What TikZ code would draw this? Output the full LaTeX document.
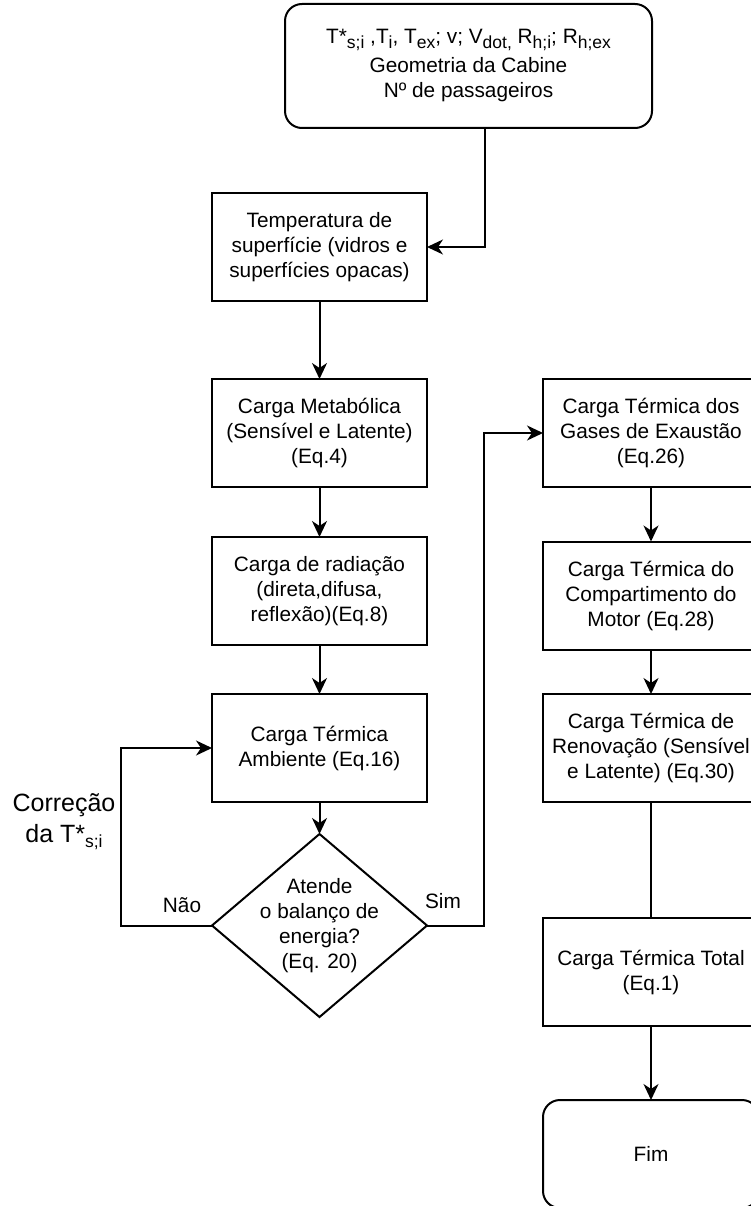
\documentclass[tikz,border=0pt]{standalone}
\usepackage{fontspec}
\setmainfont{Liberation Sans}
\usetikzlibrary{arrows.meta,shapes.geometric}
% subscript in the style of the flowchart labels
\newcommand{\sbs}[1]{\raisebox{-5pt}{\fontsize{17.5}{17.5}\selectfont #1}}
\begin{document}
\begin{tikzpicture}[x=1pt,y=1pt,
  every node/.style={font={\fontsize{20.8}{25}\selectfont}},
  proc/.style={draw, line width=2pt, rectangle, minimum width=215pt,
    minimum height=108pt, align=center, inner sep=0pt, outer sep=0pt},
  procR/.style={proc, minimum width=216pt},
  term/.style={proc, rounded corners=17pt},
  decision/.style={draw, line width=2pt, diamond, minimum width=215pt,
    minimum height=183pt, inner sep=0pt, outer sep=0pt},
  plain/.style={align=center, inner sep=0pt},
  link/.style={line width=2pt},
  arr/.style={link, -{Stealth[length=16pt,width=15pt,inset=5pt]}}
]
\useasboundingbox (0,0) rectangle (751,-1206);
\clip (0,0) rectangle (751,-1206);

% input block
\node[term, minimum width=367pt, minimum height=124pt] (inp) at (468.5,-66) {};
\node[plain] (inptxt) at (468.5,-66)
  {T*\sbs{s;i} ,T\sbs{i}, T\sbs{ex}; v; V\sbs{dot,} R\sbs{h;i}; R\sbs{h;ex}\\[4pt]
   Geometria da Cabine\\
   Nº de passageiros};

% left column
\node[proc] (temp) at (319.5,-247) {Temperatura de\\superfície (vidros e\\superfícies opacas)};
\node[proc] (meta) at (319.5,-433) {Carga Metabólica\\(Sensível e Latente)\\(Eq.4)};
\node[proc] (rad)  at (319.5,-591) {Carga de radiação\\(direta,difusa,\\reflexão)(Eq.8)};
\node[proc] (amb)  at (319.5,-748) {Carga Térmica\\Ambiente (Eq.16)};
\node[decision] (dec) at (319.5,-925.5) {};
\node[plain] (dectxt) at (dec.center) {Atende\\o balanço de\\energia?\\(Eq. 20)};

% right column
\node[procR] (gases) at (651,-433)  {Carga Térmica dos\\Gases de Exaustão\\(Eq.26)};
\node[procR] (comp)  at (651,-595.5){Carga Térmica do\\Compartimento do\\Motor (Eq.28)};
\node[procR] (renov) at (651,-748)  {Carga Térmica de\\Renovação (Sensível\\e Latente) (Eq.30)};
\node[procR] (total) at (651,-972)  {Carga Térmica Total\\(Eq.1)};
\node[procR, rounded corners=17pt] (fim) at (651,-1154) {Fim};

% labels
\node[plain, font={\fontsize{25}{31}\selectfont}] (corr) at (64,-822) {Correção\\da T*\sbs{s;i}};
\node[plain] (nao) at (182,-905) {Não};
\node[plain] (sim) at (443,-901) {Sim};

% connectors
\draw[arr] ([xshift=16.5pt]inp.south) |- (temp.east);
\draw[arr] (temp.south) -- (meta.north);
\draw[arr] (meta.south) -- (rad.north);
\draw[arr] (rad.south) -- (amb.north);
\draw[arr] (amb.south) -- (dec.north);
\draw[arr] (dec.west) -- ++(-91,0) |- (amb.west);
\draw[arr] (dec.east) -- ++(57,0) |- (gases.west);
\draw[arr] (gases.south) -- (comp.north);
\draw[arr] (comp.south) -- (renov.north);
\draw[link] (renov.south) -- (total.north);
\draw[arr] (total.south) -- (fim.north);
\end{tikzpicture}
\end{document}
